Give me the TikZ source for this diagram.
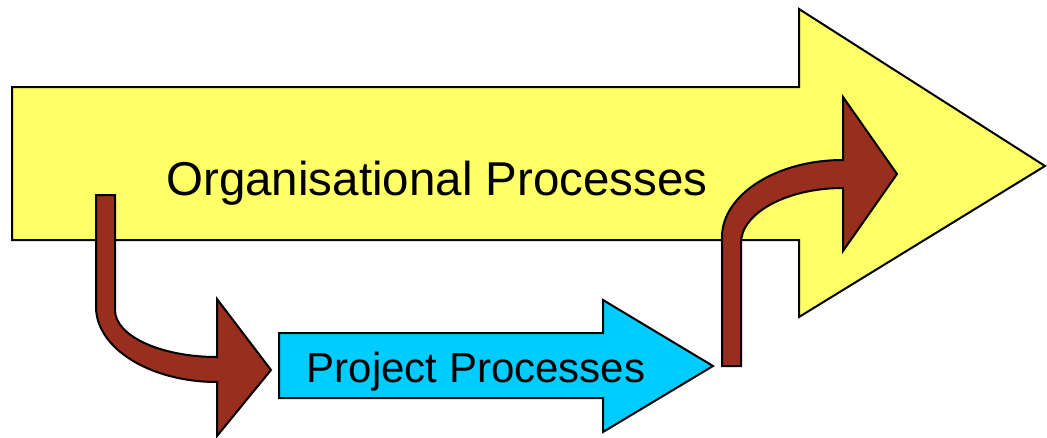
\documentclass[tikz,border=0pt]{standalone}
\usepackage{fontspec}
\setmainfont{Liberation Sans}
\definecolor{orgyellow}{RGB}{255,255,102}
\definecolor{projblue}{RGB}{0,204,255}
\definecolor{flowbrown}{RGB}{153,45,30}
\tikzset{
  blockarrow/.style={draw=black, line width=2pt, line join=miter},
  label/.style={anchor=base, inner sep=0pt, text=black},
}
\begin{document}
\begin{tikzpicture}[x=1pt, y=-1pt]
  \useasboundingbox (0,0) rectangle (1047,437);

  % large arrow for the organisation
  \draw[blockarrow, fill=orgyellow]
    (12,87) -- (799,87) -- (799,9) -- (1045,166) -- (799,317)
    -- (799,240) -- (12,240) -- cycle;

  % bent arrow going down into the project
  \draw[blockarrow, fill=flowbrown]
    (96,195) -- (115,195) -- (115,310)
    .. controls (115,336) and (161,357) .. (217,357)
    -- (217,299) -- (271,370) -- (217,436) -- (217,382)
    .. controls (150,382) and (96,348) .. (96,307) -- cycle;

  % project arrow
  \draw[blockarrow, fill=projblue]
    (279,333) -- (603,333) -- (603,300) -- (713,366) -- (603,432)
    -- (603,398) -- (279,398) -- cycle;

  % bent arrow going back up into the organisation
  \draw[blockarrow, fill=flowbrown]
    (722,366) -- (741,366) -- (741,243)
    .. controls (741,213) and (787,188) .. (843,188)
    -- (843,251) -- (897,174) -- (843,97) -- (843,160)
    .. controls (776,160) and (722,195) .. (722,237) -- cycle;

  \node[label, font=\fontsize{47.5}{57}\selectfont] (org) at (437,195) {Organisational Processes};
  \node[label, font=\fontsize{42}{50}\selectfont] (proj) at (476,382) {Project Processes};
\end{tikzpicture}
\end{document}
